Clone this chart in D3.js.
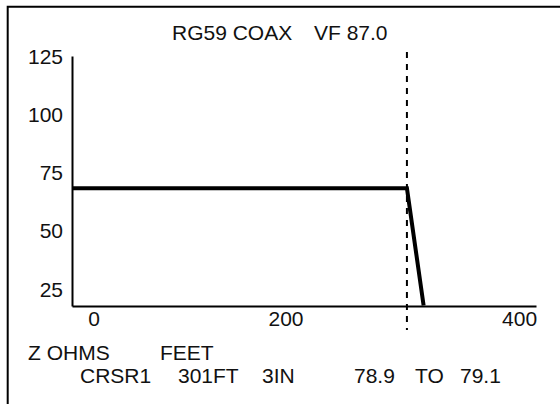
<!DOCTYPE html>
<html>
<head>
<meta charset="utf-8">
<script src="https://cdn.jsdelivr.net/npm/d3@7"></script>
<style>
  html, body { margin: 0; padding: 0; background: #fff; }
  svg { display: block; }
  text { font-family: "Liberation Sans", Arial, sans-serif; fill: #111; }
</style>
</head>
<body>
<svg id="chart" width="560" height="404"></svg>
<script>
// ---- data ----
const yTicks = [25, 50, 75, 100, 125];
const xTicks = [0, 200, 400];
const traceFeet = [0, 301, 316];
const traceOhms = [68.5, 68.5, 18];
const cursorFeet = 301;
const titleParts = ["RG59 COAX", "VF 87.0"];
const unitLabels = ["Z OHMS", "FEET"];
const readout = ["CRSR1", "301FT", "3IN", "78.9", "TO", "79.1"];

// ---- layout / style ----
const svg = d3.select("#chart");
const x = d3.scaleLinear().domain([0, 417]).range([72, 536]);
const y = d3.scaleLinear().domain([17.8, 125.4]).range([306, 56]);
const fontSize = 21;
const xTickNudge = [22, -8.5, 2.5];
const titleX = [172, 314];
const unitX = [28, 160];
const readoutX = [80, 178, 262, 354, 415, 460];

// frame (top + left edges)
svg.append("path")
  .attr("d", "M7.7,404 V6.8 H560")
  .attr("fill", "none").attr("stroke", "#000").attr("stroke-width", 2);

// title
svg.selectAll("text.title").data(titleParts).join("text")
  .attr("class", "title")
  .attr("x", (d, i) => titleX[i]).attr("y", 40)
  .attr("font-size", fontSize).text(d => d);

// y axis
const yAxis = svg.append("g").attr("transform", `translate(${x.range()[0]},0)`)
  .call(d3.axisLeft(y).tickValues(yTicks).tickSize(0).tickPadding(9).tickFormat(d3.format("d")));
yAxis.select(".domain").attr("stroke", "#000").attr("stroke-width", 2);
yAxis.selectAll("text").attr("font-size", fontSize)
  .attr("font-family", "Liberation Sans, Arial, sans-serif").attr("fill", "#111");

// x axis line
const xAxis = svg.append("g").attr("transform", `translate(0,${y.range()[0]})`)
  .call(d3.axisBottom(x).tickValues([]).tickSize(0));
xAxis.select(".domain").attr("stroke", "#000").attr("stroke-width", 2);

// x tick labels
svg.selectAll("text.xt").data(xTicks).join("text")
  .attr("class", "xt")
  .attr("x", (d, i) => x(d) + xTickNudge[i]).attr("y", 326)
  .attr("text-anchor", "middle")
  .attr("font-size", fontSize).text(d => d);

// cursor (dashed)
svg.append("line")
  .attr("x1", x(cursorFeet)).attr("x2", x(cursorFeet))
  .attr("y1", y.range()[1] - 4).attr("y2", y.range()[0] + 24)
  .attr("stroke", "#000").attr("stroke-width", 2)
  .attr("stroke-dasharray", "6,6");

// trace
const pts = traceFeet.map((f, i) => [x(f), y(traceOhms[i])]);
svg.append("path")
  .attr("d", d3.line()(pts))
  .attr("fill", "none").attr("stroke", "#000").attr("stroke-width", 4)
  .attr("stroke-linejoin", "miter");

// unit labels
svg.selectAll("text.unit").data(unitLabels).join("text")
  .attr("class", "unit")
  .attr("x", (d, i) => unitX[i]).attr("y", 360)
  .attr("font-size", fontSize).text(d => d);

// readout
svg.selectAll("text.ro").data(readout).join("text")
  .attr("class", "ro")
  .attr("x", (d, i) => readoutX[i]).attr("y", 383)
  .attr("font-size", fontSize).text(d => d);
</script>
</body>
</html>
